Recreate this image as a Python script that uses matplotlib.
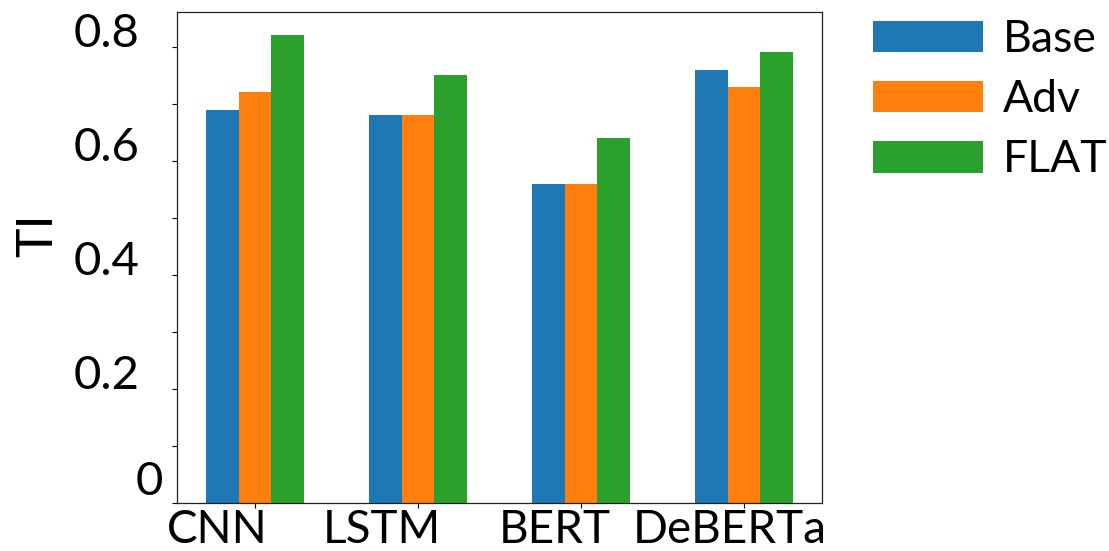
import numpy as np
import matplotlib
matplotlib.use("Agg")
import matplotlib.pyplot as plt
from matplotlib.ticker import MultipleLocator, FuncFormatter
from matplotlib.transforms import ScaledTranslation

plt.rcParams['font.family'] = ['Lato', 'DejaVu Sans']

# Data
models = ["CNN", "LSTM", "BERT", "DeBERTa"]
methods = ["Base", "Adv", "FLAT"]
base = [0.69, 0.68, 0.56, 0.76]
adv = [0.72, 0.68, 0.56, 0.73]
flat = [0.82, 0.75, 0.64, 0.79]
y_label = "TI"

colors = ["#1f77b4", "#ff7f0e", "#2ca02c"]

W, H, DPI = 1109, 551, 100
fig = plt.figure(figsize=(W / DPI, H / DPI), dpi=DPI)
ax = fig.add_axes([177 / W, 48 / H, 645 / W, 491 / H])

x = np.arange(len(models))
width = 0.2
for off, vals, name, col in zip((-width, 0, width), (base, adv, flat), methods, colors):
    ax.bar(x + off, vals, width=width, color=col, label=name)

# y axis: ticks every 0.1, labels every 0.2
ax.set_yticks([0, 0.2, 0.4, 0.6, 0.8])
ax.yaxis.set_minor_locator(MultipleLocator(0.1))
ax.yaxis.set_major_formatter(FuncFormatter(lambda v, p: "0" if abs(v) < 1e-9 else f"{v:.1f}"))
ax.tick_params(axis='y', which='both', length=3.6, width=0.8, pad=23.5, labelsize=34)
for lab in ax.get_yticklabels():
    lab.set_va('baseline')
zero_lab = ax.get_yticklabels()[0]
zero_lab.set_transform(zero_lab.get_transform() + ScaledTranslation(24 / DPI, 8 / DPI, fig.dpi_scale_trans))

# x axis
ax.set_xticks(x)
ax.set_xticklabels(models)
ax.tick_params(axis='x', length=3.5, width=0.8, pad=1, labelsize=33)
x_shift_px = [-37.5, -36.5, -26, -14]
for lab, dx in zip(ax.get_xticklabels(), x_shift_px):
    lab.set_transform(lab.get_transform() + ScaledTranslation(dx / DPI, 0, fig.dpi_scale_trans))

ax.set_ylabel(y_label, fontsize=36, va='center')
ax.yaxis.set_label_coords(-0.2155, 0.545)

for s in ax.spines.values():
    s.set_linewidth(0.9)
    s.set_color("#222222")

fig.legend(loc='upper left', bbox_to_anchor=(873 / W, 1 - 19 / H),
           frameon=False, fontsize=32, handlelength=2.48, handleheight=0.72,
           handletextpad=0.45, labelspacing=0.43, borderpad=0, borderaxespad=0)

fig.savefig("out.png", dpi=DPI)
